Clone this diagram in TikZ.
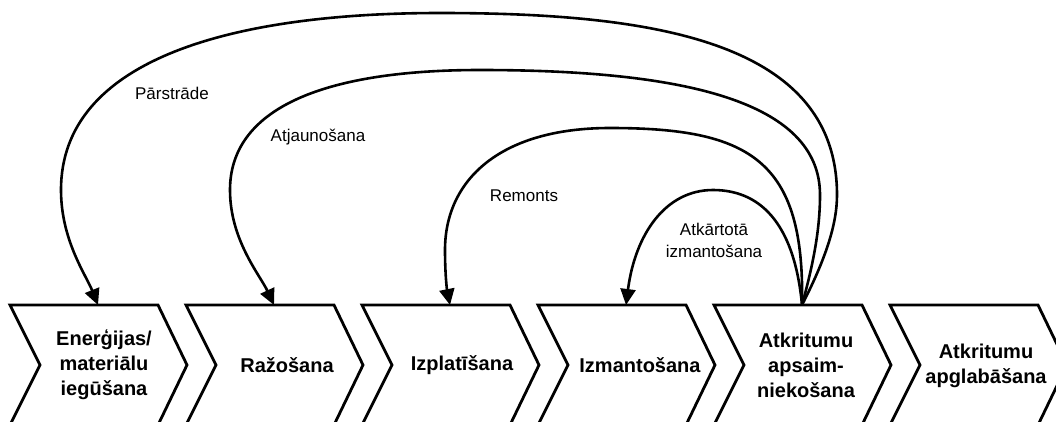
\documentclass[tikz,border=0pt]{standalone}
\usepackage{fontspec}
\setmainfont{Liberation Sans}
\usetikzlibrary{arrows.meta}
\begin{document}
\begin{tikzpicture}[x=1pt,y=-1pt,
  chev/.style={draw=black, line width=2.8pt, line join=miter},
  stage/.style={font=\fontsize{20}{25}\selectfont\bfseries, align=center, inner sep=0pt},
  flow/.style={line width=2.6pt, -{Triangle[width=15pt,length=16pt]}},
  lbl/.style={font=\fontsize{17}{22}\selectfont, align=center, inner sep=0pt}]
\useasboundingbox (0,0) rectangle (1056,421);
\clip (0,0) rectangle (1056,421);
\foreach \i/\L in {1/10,2/186,3/362,4/538,5/714,6/890}{
  \draw[chev] (\L,305) -- ++(148,0) -- ++(29,60) -- ++(-29,60) -- ++(-148,0) -- ++(30,-60) -- cycle;
  \coordinate (top\i) at (\L+88,305);
}
\node[stage] (n1) at (104,365) {Enerģijas/\\materiālu\\iegūšana};
\node[stage] (n2) at (287,365) {Ražošana};
\node[stage] (n3) at (462,365) {Izplatīšana};
\node[stage] (n4) at (640,365) {Izmantošana};
\node[stage] (n5) at (806,365) {Atkritumu\\apsaim-\\niekošana};
\node[stage] (n6) at (986,366) {Atkritumu\\apglabāšana};

\node[lbl] (l1) at (172,93) {Pārstrāde};
\node[lbl] (l2) at (318,137) {Atjaunošana};
\node[lbl] (l3) at (524,196) {Remonts};
\node[lbl] (l4) at (714,240) {Atkārtotā\\izmantošana};

\draw[flow] (top5) .. controls (825,260) and (837,225) .. (837,195)
  .. controls (837,40) and (650,13) .. (440,13)
  .. controls (230,13) and (61,60) .. (61,190)
  .. controls (61,240) and (86,275) .. (top1);
\draw[flow] (top5) .. controls (813,265) and (820,230) .. (820,195)
  .. controls (820,100) and (680,70) .. (480,70)
  .. controls (320,70) and (230,110) .. (230,190)
  .. controls (230,240) and (260,275) .. (top2);
\draw[flow] (top5) .. controls (805,160) and (750,128) .. (610,128)
  .. controls (500,128) and (445,180) .. (445,250)
  .. controls (445,275) and (447,290) .. (top3);
\draw[flow] (top5) .. controls (795,230) and (765,190) .. (713,190)
  .. controls (665,190) and (635,235) .. (top4);
\end{tikzpicture}
\end{document}
